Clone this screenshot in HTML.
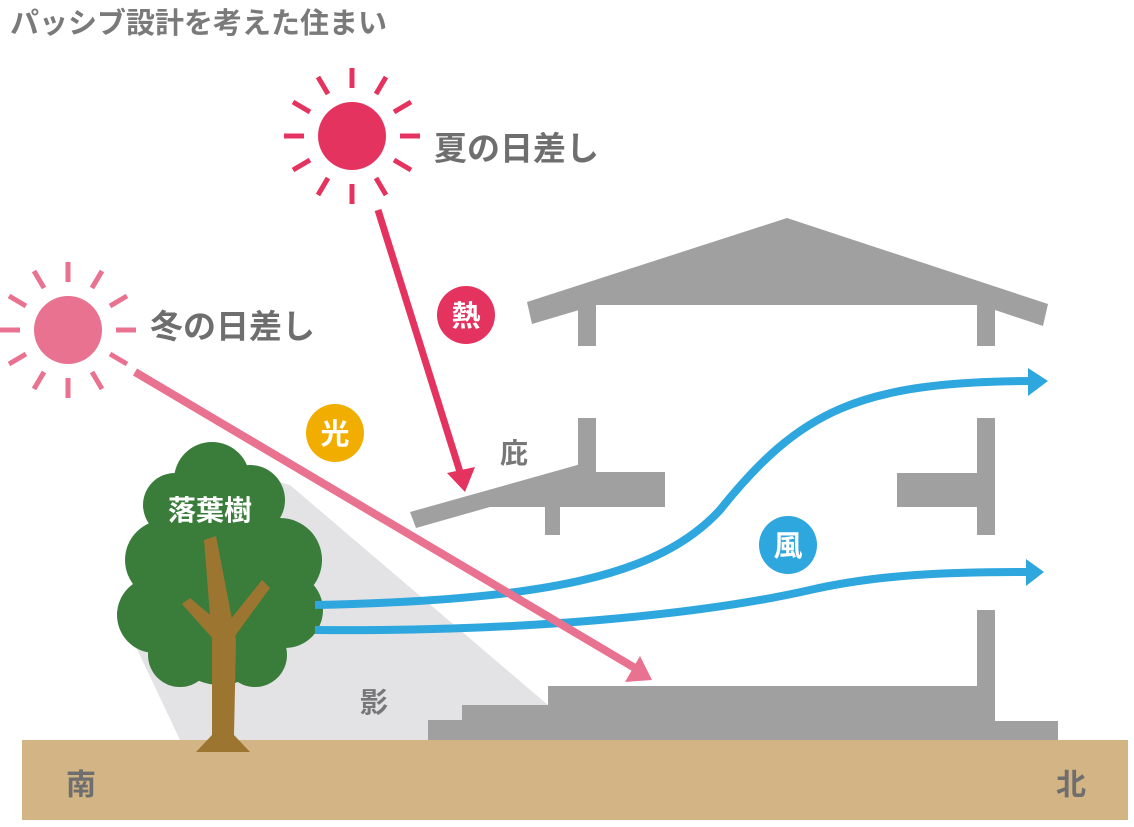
<!DOCTYPE html>
<html><head><meta charset="utf-8"><style>
html,body{margin:0;padding:0;background:#fff;}
svg{display:block;font-family:"Liberation Sans","Noto Sans CJK JP",sans-serif;font-weight:bold;}
</style></head><body>
<svg width="1134" height="827" viewBox="0 0 1134 827" xmlns="http://www.w3.org/2000/svg">
<text x="10" y="33" font-size="29" fill="#7a7a7a">パッシブ設計を考えた住まい</text>
<!-- ground -->
<rect x="22" y="740" width="1106" height="80" fill="#d3b484"/>
<text x="66" y="795" font-size="30" fill="#6e6e6e">南</text>
<text x="1056" y="795" font-size="30" fill="#6e6e6e">北</text>
<!-- shadow -->
<polygon points="128,630 180,740 548,740 548,705 290,485 235,470" fill="#e3e3e5"/>
<text x="360" y="712" font-size="28" fill="#777">影</text>
<!-- house -->
<g fill="#a0a0a0">
<polygon points="527,302 787,218 1048,304 1043,326 980,305 596,305 532,324"/>
<rect x="578" y="300" width="18" height="46"/>
<rect x="977" y="300" width="18" height="46"/>
<rect x="578" y="418" width="18" height="57"/>
<rect x="977" y="418" width="18" height="117"/>
<polygon points="410,512 588,462 592,478 416,528"/>
<polygon points="470,507 592,470 592,507"/>
<rect x="580" y="472" width="85" height="35"/>
<rect x="545" y="505" width="15" height="30"/>
<rect x="897" y="473" width="80" height="34"/>
<rect x="977" y="610" width="18" height="130"/>
<rect x="995" y="721" width="63" height="19"/>
<rect x="548" y="686" width="429" height="54"/>
<rect x="462" y="705" width="90" height="35"/>
<rect x="428" y="720" width="40" height="20"/>
</g>
<text x="500" y="463" font-size="28" fill="#777">庇</text>
<!-- tree -->
<g fill="#3a7d3b">
<circle cx="212" cy="480" r="38"/><circle cx="250" cy="500" r="35"/><circle cx="175" cy="505" r="32"/>
<circle cx="165" cy="560" r="40"/><circle cx="280" cy="560" r="42"/><circle cx="220" cy="560" r="55"/>
<circle cx="155" cy="615" r="38"/><circle cx="285" cy="610" r="38"/><circle cx="220" cy="630" r="55"/>
<circle cx="180" cy="655" r="32"/><circle cx="255" cy="655" r="32"/>
</g>
<g fill="#9c7630">
<polygon points="204,540 216,536 236,640 234,735 250,752 196,752 212,735 212,640"/>
<polygon points="182,604 190,598 222,625 214,640"/>
<polygon points="226,625 262,580 270,588 232,640"/>
</g>
<text x="168" y="520" font-size="28" fill="#fff">落葉樹</text>
<!-- wind -->
<g fill="none" stroke="#2ea6de" stroke-width="8">
<path d="M315,605 C550,600 660,575 720,510 C800,410 860,382 1030,381"/>
<path d="M315,630 C520,632 700,615 810,590 C880,574 950,572 1028,572"/>
</g>
<polygon points="1028,368 1048,381 1028,396" fill="#2ea6de"/>
<polygon points="1026,559 1044,572 1026,586" fill="#2ea6de"/>
<!-- winter light -->
<line x1="135" y1="372" x2="635" y2="668" stroke="#e8728f" stroke-width="8"/>
<polygon points="625,682 652,680 640,656" fill="#e8728f"/>
<!-- summer heat -->
<line x1="378" y1="210" x2="460" y2="472" stroke="#e5335f" stroke-width="7"/>
<polygon points="447,473 475,467 465,492" fill="#e5335f"/>
<!-- suns -->
<circle cx="68" cy="330" r="34" fill="#e8728f"/>
<g stroke="#e8728f" stroke-width="5" stroke-linecap="butt">
<line x1="68" y1="262" x2="68" y2="282"/><line x1="68" y1="378" x2="68" y2="398"/>
<line x1="0" y1="330" x2="20" y2="330"/><line x1="116" y1="330" x2="136" y2="330"/>
<line x1="34" y1="271" x2="44" y2="288"/><line x1="92" y1="372" x2="102" y2="389"/>
<line x1="102" y1="271" x2="92" y2="288"/><line x1="44" y1="372" x2="34" y2="389"/>
<line x1="9" y1="296" x2="26" y2="306"/><line x1="110" y1="354" x2="127" y2="364"/>
<line x1="127" y1="296" x2="110" y2="306"/><line x1="26" y1="354" x2="9" y2="364"/>
</g>
<circle cx="352" cy="136" r="34" fill="#e5335f"/>
<g stroke="#e5335f" stroke-width="5">
<line x1="352" y1="68" x2="352" y2="88"/><line x1="352" y1="184" x2="352" y2="204"/>
<line x1="284" y1="136" x2="304" y2="136"/><line x1="400" y1="136" x2="420" y2="136"/>
<line x1="318" y1="77" x2="328" y2="94"/><line x1="376" y1="178" x2="386" y2="195"/>
<line x1="386" y1="77" x2="376" y2="94"/><line x1="328" y1="178" x2="318" y2="195"/>
<line x1="293" y1="102" x2="310" y2="112"/><line x1="394" y1="160" x2="411" y2="170"/>
<line x1="411" y1="102" x2="394" y2="112"/><line x1="310" y1="160" x2="293" y2="170"/>
</g>
<text x="434" y="160" font-size="33" fill="#6e6e6e">夏の日差し</text>
<text x="150" y="338" font-size="33" fill="#6e6e6e">冬の日差し</text>
<!-- badges -->
<circle cx="466" cy="315" r="29" fill="#e5335f"/>
<text x="466" y="326" font-size="29" fill="#fff" text-anchor="middle">熱</text>
<circle cx="335" cy="433" r="29" fill="#f2ae00"/>
<text x="335" y="444" font-size="29" fill="#fff" text-anchor="middle">光</text>
<circle cx="788" cy="545" r="29" fill="#2ea6de"/>
<text x="788" y="556" font-size="29" fill="#fff" text-anchor="middle">風</text>
</svg>
</body></html>
